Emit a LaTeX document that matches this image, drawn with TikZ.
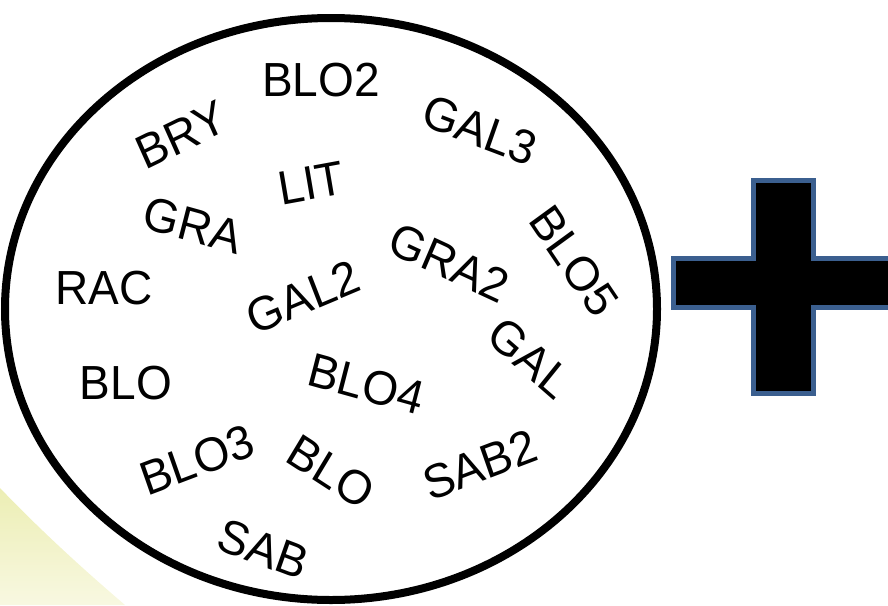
\documentclass[tikz,border=0pt]{standalone}
\usepackage{fontspec}
\setmainfont{Liberation Sans}
\definecolor{plusblue}{RGB}{59,95,143}
\definecolor{glow}{RGB}{236,238,180}
\definecolor{glowlight}{RGB}{248,248,225}
\begin{document}
\begin{tikzpicture}[x=1pt,y=-1pt,
  lbl/.style={font=\fontsize{46}{46}\selectfont, inner sep=0pt, yscale=1.04}]
\useasboundingbox (0,0) rectangle (888,605);
% pale yellow glow bottom-left
\shade[left color=glow, right color=glowlight, shading angle=0]
  (0,488) .. controls (45,535) and (90,575) .. (125,605) -- (0,605) -- cycle;
% ellipse
\draw[line width=8pt, fill=white] (331,309) ellipse [x radius=326, y radius=291];
% plus sign
\draw[plusblue, line width=5pt, fill=black]
  (753,180) -- (813,180) -- (813,258) -- (895,258) -- (895,307) -- (813,307)
  -- (813,393) -- (753,393) -- (753,307) -- (673,307) -- (673,258) -- (753,258) -- cycle;
% labels
\node[lbl] (blo2) at (321,80) {BLO2};
\node[lbl, rotate=25] (bry) at (181,135) {BRY};
\node[lbl, rotate=-20] (gal3) at (480,130) {GAL3};
\node[lbl, rotate=10] (lit) at (311,183) {LIT};
\node[lbl, rotate=-15] (gra) at (193,225) {GRA};
\node[lbl, rotate=-55] (blo5) at (574,261) {BLO5};
\node[lbl, rotate=-24] (gra2) at (449,263) {GRA2};
\node[lbl] (rac) at (104,288) {RAC};
\node[lbl, rotate=22] (gal2) at (303,297) {GAL2};
\node[lbl, rotate=-40] (gal) at (530,358) {GAL};
\node[lbl] (blo) at (126,383) {BLO};
\node[lbl, rotate=-15] (blo4) at (366,384) {BLO4};
\node[lbl, rotate=20] (blo3) at (197,460) {BLO3};
\node[lbl, rotate=-32] (bloB) at (331,472) {BLO};
\node[lbl, rotate=20] (sab2) at (480,465) {SAB2};
\node[lbl, rotate=-20] (sab) at (263,549) {SAB};
\end{tikzpicture}
\end{document}
